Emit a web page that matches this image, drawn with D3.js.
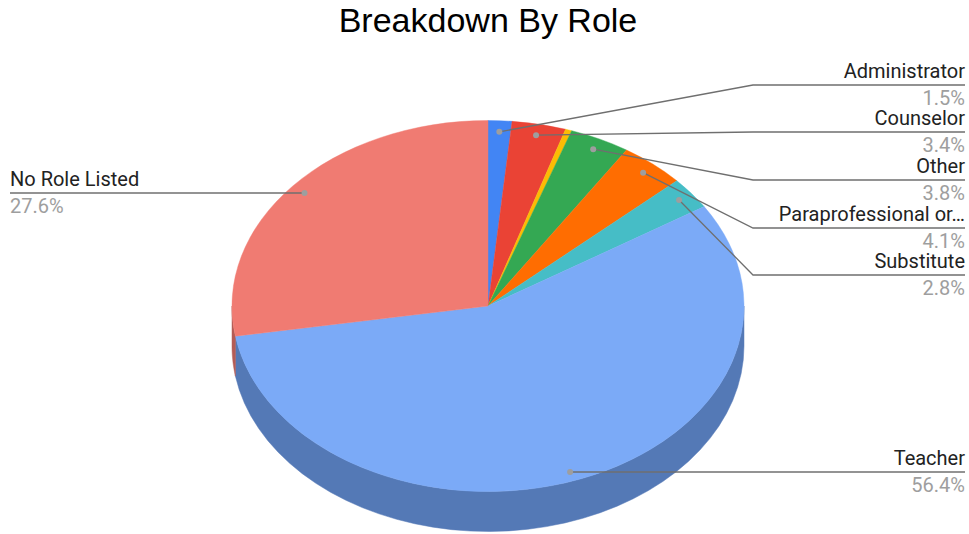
<!DOCTYPE html>
<html>
<head>
<meta charset="utf-8">
<script src="https://cdn.jsdelivr.net/npm/d3@7"></script>
<style>
  body { margin: 0; background: #fff; }
</style>
</head>
<body>
<script>
// slices in clockwise order from 12 o'clock
var roles = ["Administrator", "Counselor", "Unlabeled", "Other", "Paraprofessional or…", "Substitute", "Teacher", "No Role Listed"];
var shares = [1.5, 3.4, 0.4, 3.8, 4.1, 2.8, 56.4, 27.6];
var topColors = ["#4285f4", "#ea4335", "#fbbc04", "#34a853", "#ff6d01", "#46bdc6", "#7baaf7", "#f07b72"];
var sideColors = ["#3164b8", "#b0322a", "#bc8d03", "#27803f", "#c05201", "#348e94", "#5479b6", "#b45c56"];
var showLabel = [true, true, false, true, true, true, true, true];
var labelSide = ["right", "right", "none", "right", "right", "right", "right", "left"];

var w = 969, h = 534;
var cx = 488, cy = 306, rx = 256, ry = 185.5, depth = 40;

var svg = d3.select("body").append("svg")
  .attr("width", w)
  .attr("height", h)
  .style("font-family", "Roboto, sans-serif");

svg.append("text")
  .attr("x", cx)
  .attr("y", 32)
  .attr("text-anchor", "middle")
  .style("font-family", "'Liberation Sans', Arial, sans-serif")
  .style("font-size", "34px")
  .attr("fill", "#000")
  .text("Breakdown By Role");

var data = roles.map(function(r, i) { return { role: r, share: shares[i], i: i }; });
var pie = d3.pie().sort(null).value(function(d) { return d.share; });
var arcs = pie(data);

function pt(a, r, dy) {
  return [cx + r * rx * Math.sin(a), cy - r * ry * Math.cos(a) + (dy || 0)];
}

// side walls (only the front half, angle between pi/2 and 3pi/2)
var line = d3.line();
var sides = svg.append("g");
arcs.forEach(function(d) {
  var a0 = Math.max(d.startAngle, Math.PI / 2);
  var a1 = Math.min(d.endAngle, 3 * Math.PI / 2);
  if (a1 <= a0) return;
  var top = d3.range(0, 41).map(function(k) { return pt(a0 + (a1 - a0) * k / 40, 1, 0); });
  var bottom = top.map(function(p) { return [p[0], p[1] + depth]; }).reverse();
  sides.append("path")
    .attr("d", line(top.concat(bottom)) + "Z")
    .attr("fill", sideColors[d.data.i])
    .attr("stroke", sideColors[d.data.i])
    .attr("stroke-width", 0.5);
});

// top face
var arc = d3.arc().innerRadius(0).outerRadius(rx);
svg.append("g")
  .attr("transform", "translate(" + cx + "," + cy + ") scale(1," + (ry / rx) + ")")
  .selectAll("path")
  .data(arcs)
  .enter()
  .append("path")
  .attr("d", arc)
  .attr("fill", function(d) { return topColors[d.data.i]; })
  .attr("stroke", function(d) { return topColors[d.data.i]; })
  .attr("stroke-width", 0.5);

// labels: right column stacked top to bottom, Teacher near the bottom
var labelLineY = { "Administrator": 85, "Counselor": 132, "Other": 180, "Paraprofessional or…": 228, "Substitute": 275, "Teacher": 472, "No Role Listed": 193 };
var elbowX = 753, rightX = 965, leftX = 10;
var labels = svg.append("g");

arcs.forEach(function(d) {
  var i = d.data.i;
  if (!showLabel[i]) return;
  var mid = (d.startAngle + d.endAngle) / 2;
  var rr = d.data.role === "Teacher" ? 0.9 : 0.94;
  var dot = pt(mid, rr, 0);
  var ly = labelLineY[d.data.role];
  var pts;
  if (labelSide[i] === "left") {
    pts = [[leftX, ly], [dot[0], ly]];
    dot = [dot[0], ly];
  } else if (d.data.role === "Teacher") {
    pts = [[dot[0], ly], [rightX, ly]];
    dot = [dot[0], ly];
  } else {
    pts = [dot, [elbowX, ly], [rightX, ly]];
  }
  labels.append("path")
    .attr("d", line(pts))
    .attr("fill", "none")
    .attr("stroke", "#6f6f6f")
    .attr("stroke-width", 1.3);
  labels.append("circle")
    .attr("cx", dot[0])
    .attr("cy", dot[1])
    .attr("r", 3)
    .attr("fill", "#9e9e9e");
  var tx = labelSide[i] === "left" ? leftX : rightX;
  var anchor = labelSide[i] === "left" ? "start" : "end";
  labels.append("text")
    .attr("x", tx)
    .attr("y", ly - 7)
    .attr("text-anchor", anchor)
    .style("font-size", "20px")
    .attr("fill", "#222")
    .text(d.data.role);
  labels.append("text")
    .attr("x", tx)
    .attr("y", ly + 20)
    .attr("text-anchor", anchor)
    .style("font-size", "20px")
    .attr("fill", "#9e9e9e")
    .text(d.data.share.toFixed(1) + "%");
});
</script>
</body>
</html>
